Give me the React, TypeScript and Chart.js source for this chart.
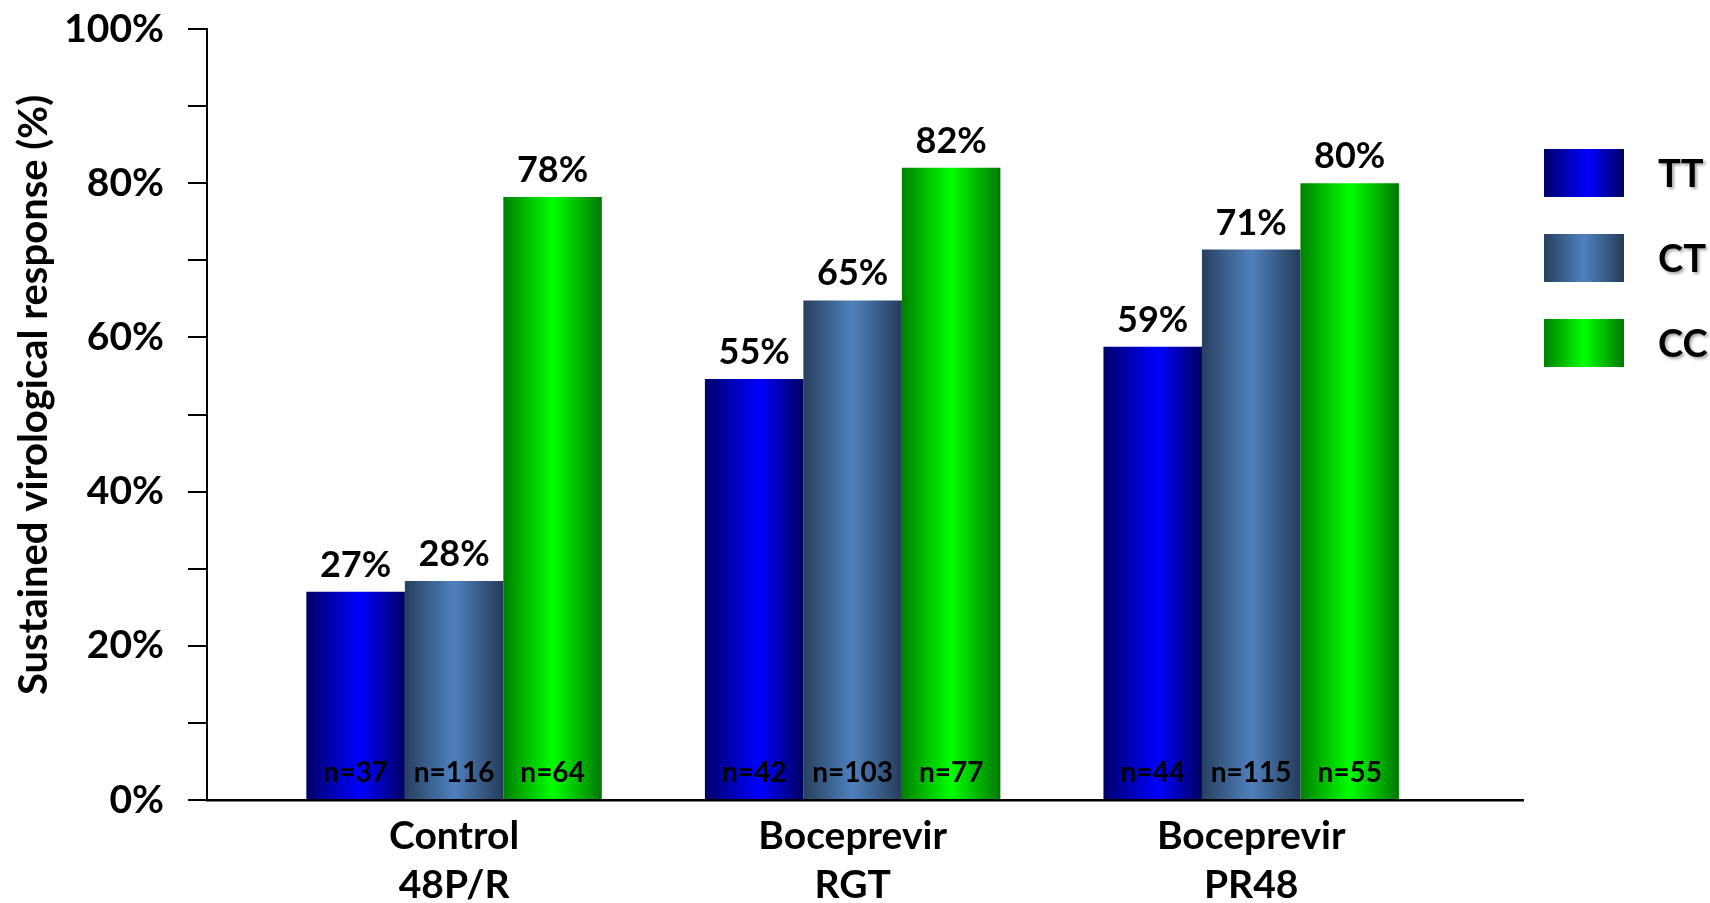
import React, { useEffect, useRef } from "react";
import { Chart, registerables } from "chart.js";

Chart.register(...registerables);

// ---------- data ----------
const categories: string[][] = [
  ["Control", "48P/R"],
  ["Boceprevir", "RGT"],
  ["Boceprevir", "PR48"],
];
const seriesNames = ["TT", "CT", "CC"];
const ttValues = [27.0, 54.6, 58.8];
const ctValues = [28.4, 64.8, 71.4];
const ccValues = [78.2, 82.0, 80.0];
const ttCounts = [37, 42, 44];
const ctCounts = [116, 103, 115];
const ccCounts = [64, 77, 55];
const yTickValues = [0, 10, 20, 30, 40, 50, 60, 70, 80, 90, 100];
const yLabelledTicks = [0, 20, 40, 60, 80, 100];
const yTitle = "Sustained virological response (%)";

const seriesValues = [ttValues, ctValues, ccValues];
const seriesCounts = [ttCounts, ctCounts, ccCounts];

// ---------- styles ----------
const FONT = "Lato";
const CAT_PCT = 0.7414;
const gradientStops: [number, string][][] = [
  [[0, "#00006a"], [0.55, "#0000ff"], [1, "#000060"]],
  [[0, "#27405f"], [0.5, "#4f81bd"], [1, "#253c5a"]],
  [[0, "#008000"], [0.5, "#00ff00"], [1, "#007800"]],
];
const solidColors = ["#0000ff", "#4f81bd", "#00ff00"];

function makeGradient(c: CanvasRenderingContext2D, x0: number, x1: number, di: number) {
  const g = c.createLinearGradient(x0, 0, x1, 0);
  gradientStops[di].forEach(([o, col]) => g.addColorStop(o, col));
  return g;
}

const barBackground = (ctx: any) => {
  const chart = ctx.chart;
  const fallback = solidColors[ctx.datasetIndex] || "#000";
  const xs = chart.scales && chart.scales.x;
  if (!xs || ctx.type !== "data") return fallback;
  const n = chart.data.datasets.length;
  const step = xs.getPixelForValue(1) - xs.getPixelForValue(0);
  const bw = (step * CAT_PCT) / n;
  const cx = xs.getPixelForValue(ctx.dataIndex) + (ctx.datasetIndex - (n - 1) / 2) * bw;
  if (!isFinite(bw) || !isFinite(cx) || bw <= 0) return fallback;
  return makeGradient(chart.ctx, cx - bw / 2, cx + bw / 2, ctx.datasetIndex);
};

const labelPlugin = {
  id: "barLabels",
  afterDatasetsDraw(chart: any) {
    const c: CanvasRenderingContext2D = chart.ctx;
    const y0 = chart.scales.y.getPixelForValue(0);
    chart.data.datasets.forEach((_ds: any, di: number) => {
      const meta = chart.getDatasetMeta(di);
      meta.data.forEach((bar: any, i: number) => {
        const { x, y } = bar.getProps(["x", "y"], true);
        c.save();
        c.fillStyle = "#000";
        c.textAlign = "center";
        c.textBaseline = "alphabetic";
        c.font = `bold 36px ${FONT}`;
        c.fillText(Math.round(seriesValues[di][i]) + "%", x, y - 15);
        c.font = `bold 28px ${FONT}`;
        c.fillText("n=" + seriesCounts[di][i], x, y0 - 18);
        c.restore();
      });
    });
  },
};

const titleAndLegendPlugin = {
  id: "titleLegend",
  afterDraw(chart: any) {
    const c: CanvasRenderingContext2D = chart.ctx;
    // y axis title
    c.save();
    c.translate(47, 395);
    c.rotate(-Math.PI / 2);
    c.font = `bold 40px ${FONT}`;
    c.fillStyle = "#000";
    c.textAlign = "center";
    c.textBaseline = "alphabetic";
    c.fillText(yTitle, 0, 0);
    c.restore();

    // legend
    const left = 1544;
    const top = 149;
    const boxW = 80;
    const boxH = 48;
    const gap = 85;
    chart.data.datasets.forEach((ds: any, di: number) => {
      const y = top + di * gap;
      c.save();
      c.fillStyle = makeGradient(c, left, left + boxW, di);
      c.fillRect(left, y, boxW, boxH);
      c.font = `bold 38px ${FONT}`;
      c.fillStyle = "#000";
      c.textAlign = "left";
      c.textBaseline = "middle";
      c.shadowColor = "rgba(0,0,0,0.35)";
      c.shadowOffsetX = 2;
      c.shadowOffsetY = 2;
      c.shadowBlur = 3;
      c.fillText(ds.label, left + 114, y + boxH / 2 + 2);
      c.restore();
    });
  },
};

export default function App() {
  const ref = useRef<HTMLCanvasElement | null>(null);

  useEffect(() => {
    if (!ref.current) return;
    Chart.defaults.font.family = FONT;
    const chart = new Chart(ref.current, {
      type: "bar",
      data: {
        datasets: seriesNames.map((name, di) => ({
          label: name,
          data: seriesValues[di].map((v, i) => ({ x: i, y: v })),
          backgroundColor: barBackground,
          borderWidth: 0,
          barPercentage: 1,
          categoryPercentage: CAT_PCT,
        })),
      },
      options: {
        animation: false,
        responsive: false,
        events: [],
        layout: { padding: { top: 29, right: 187, bottom: 0, left: 0 } },
        plugins: {
          legend: { display: false },
          title: { display: false },
          tooltip: { enabled: false },
        },
        scales: {
          x: {
            type: "linear",
            min: -0.62,
            max: 2.682,
            bounds: "data",
            offset: false,
            grid: { display: false },
            border: { display: true, color: "#000", width: 2.5 },
            afterBuildTicks: (s: any) => {
              s.ticks = categories.map((_c, i) => ({ value: i }));
            },
            afterFit: (s: any) => {
              s.height = 103;
              s.paddingLeft = 0;
              s.paddingRight = 0;
            },
            ticks: {
              autoSkip: false,
              maxRotation: 0,
              minRotation: 0,
              padding: 4,
              color: "#000",
              font: { family: FONT, weight: "bold", size: 39, lineHeight: 1.25 },
              callback: (v: any) => categories[v] ?? "",
            },
          },
          y: {
            type: "linear",
            min: 0,
            max: 100,
            afterBuildTicks: (s: any) => {
              s.ticks = yTickValues.map((v) => ({ value: v }));
            },
            afterFit: (s: any) => {
              s.width = 207;
              s.paddingTop = 0;
              s.paddingBottom = 0;
            },
            grid: {
              drawOnChartArea: false,
              drawTicks: true,
              tickLength: 19,
              color: "#000",
              lineWidth: 2,
            },
            border: { display: true, color: "#000", width: 2 },
            ticks: {
              autoSkip: false,
              padding: 24,
              color: "#000",
              font: { family: FONT, weight: "bold", size: 39 },
              callback: (v: any) => (yLabelledTicks.includes(v) ? v + "%" : ""),
            },
            title: { display: false },
          },
        },
      },
      plugins: [labelPlugin, titleAndLegendPlugin],
    } as any);
    return () => chart.destroy();
  }, []);

  return (
    <div style={{ position: "fixed", left: 0, top: 0, width: 1710, height: 903, background: "#fff" }}>
      <canvas ref={ref} width={1710} height={903} style={{ display: "block" }} />
    </div>
  );
}
